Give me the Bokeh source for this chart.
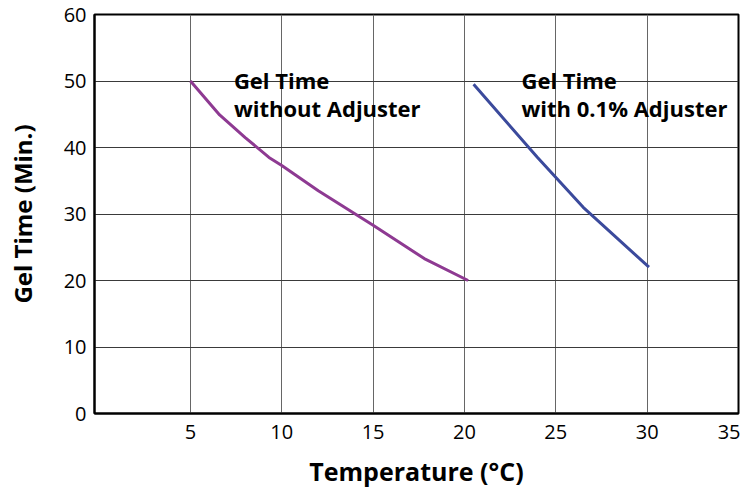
from bokeh.plotting import figure
from bokeh.models import Range1d, FixedTicker
from bokeh.core.properties import value
from bokeh.embed import file_html
from bokeh.resources import INLINE

# Data
temp_without = [5, 6.6, 8, 9.3, 10, 12, 15, 17.8, 20.2]
gel_without = [50, 44.9, 41.5, 38.5, 37.3, 33.5, 28.3, 23.3, 20]
temp_with = [20.5, 24, 26.5, 30.1]
gel_with = [49.5, 38.5, 31, 22]

x_ticks = [5, 10, 15, 20, 25, 30, 35]
y_ticks = [0, 10, 20, 30, 40, 50, 60]

label_without = ["Gel Time", "without Adjuster"]
label_with = ["Gel Time", "with 0.1% Adjuster"]

FONT = "Open Sans"

p = figure(width=740, height=490, output_backend="svg", toolbar_location=None,
           x_range=Range1d(-0.25, 35), y_range=Range1d(0, 60),
           min_border_left=94, min_border_right=2, min_border_top=14, min_border_bottom=77)

p.background_fill_color = "white"
p.border_fill_color = "white"
p.outline_line_color = "black"
p.outline_line_width = 2

for ax in (p.xaxis[0], p.yaxis[0]):
    ax.axis_line_color = "black"
    ax.axis_line_width = 2
    ax.major_tick_out = 0
    ax.major_tick_in = 0
    ax.minor_tick_out = 0
    ax.minor_tick_in = 0
    ax.major_label_text_font = FONT
    ax.major_label_text_font_size = "20px"
    ax.major_label_text_color = "black"
    ax.axis_label_text_font = FONT
    ax.axis_label_text_font_style = "bold"
    ax.axis_label_text_color = "black"

p.xaxis.axis_label_text_font_size = "25px"
p.yaxis.axis_label_text_font_size = "24px"
p.xaxis.ticker = FixedTicker(ticks=x_ticks)
p.yaxis.ticker = FixedTicker(ticks=y_ticks)
p.xaxis.major_label_standoff = 11
p.yaxis.major_label_standoff = 8
p.xaxis.axis_label = "Temperature (°C)"
p.yaxis.axis_label = "Gel Time (Min.)"
p.xaxis.axis_label_standoff = 12
p.yaxis.axis_label_standoff = 22

p.xgrid.ticker = FixedTicker(ticks=x_ticks)
p.ygrid.ticker = FixedTicker(ticks=y_ticks)
p.xgrid.grid_line_color = "#666666"
p.ygrid.grid_line_color = "#3a3a3a"
p.xgrid.grid_line_width = 1
p.ygrid.grid_line_width = 1

p.line(temp_without, gel_without, line_color="#8e3a92", line_width=3)
p.line(temp_with, gel_with, line_color="#3b4a9c", line_width=3)

text_kw = dict(text_font=value(FONT), text_font_style="bold", text_font_size="22px",
               text_color="black", text_align="left", text_baseline="alphabetic")
p.text(x=[7.38, 7.38], y=[50.2, 46.0], text=label_without, **text_kw)
p.text(x=[23.12, 23.12], y=[50.2, 46.0], text=label_with, **text_kw)

open("out.html", "w").write(file_html(p, INLINE))
